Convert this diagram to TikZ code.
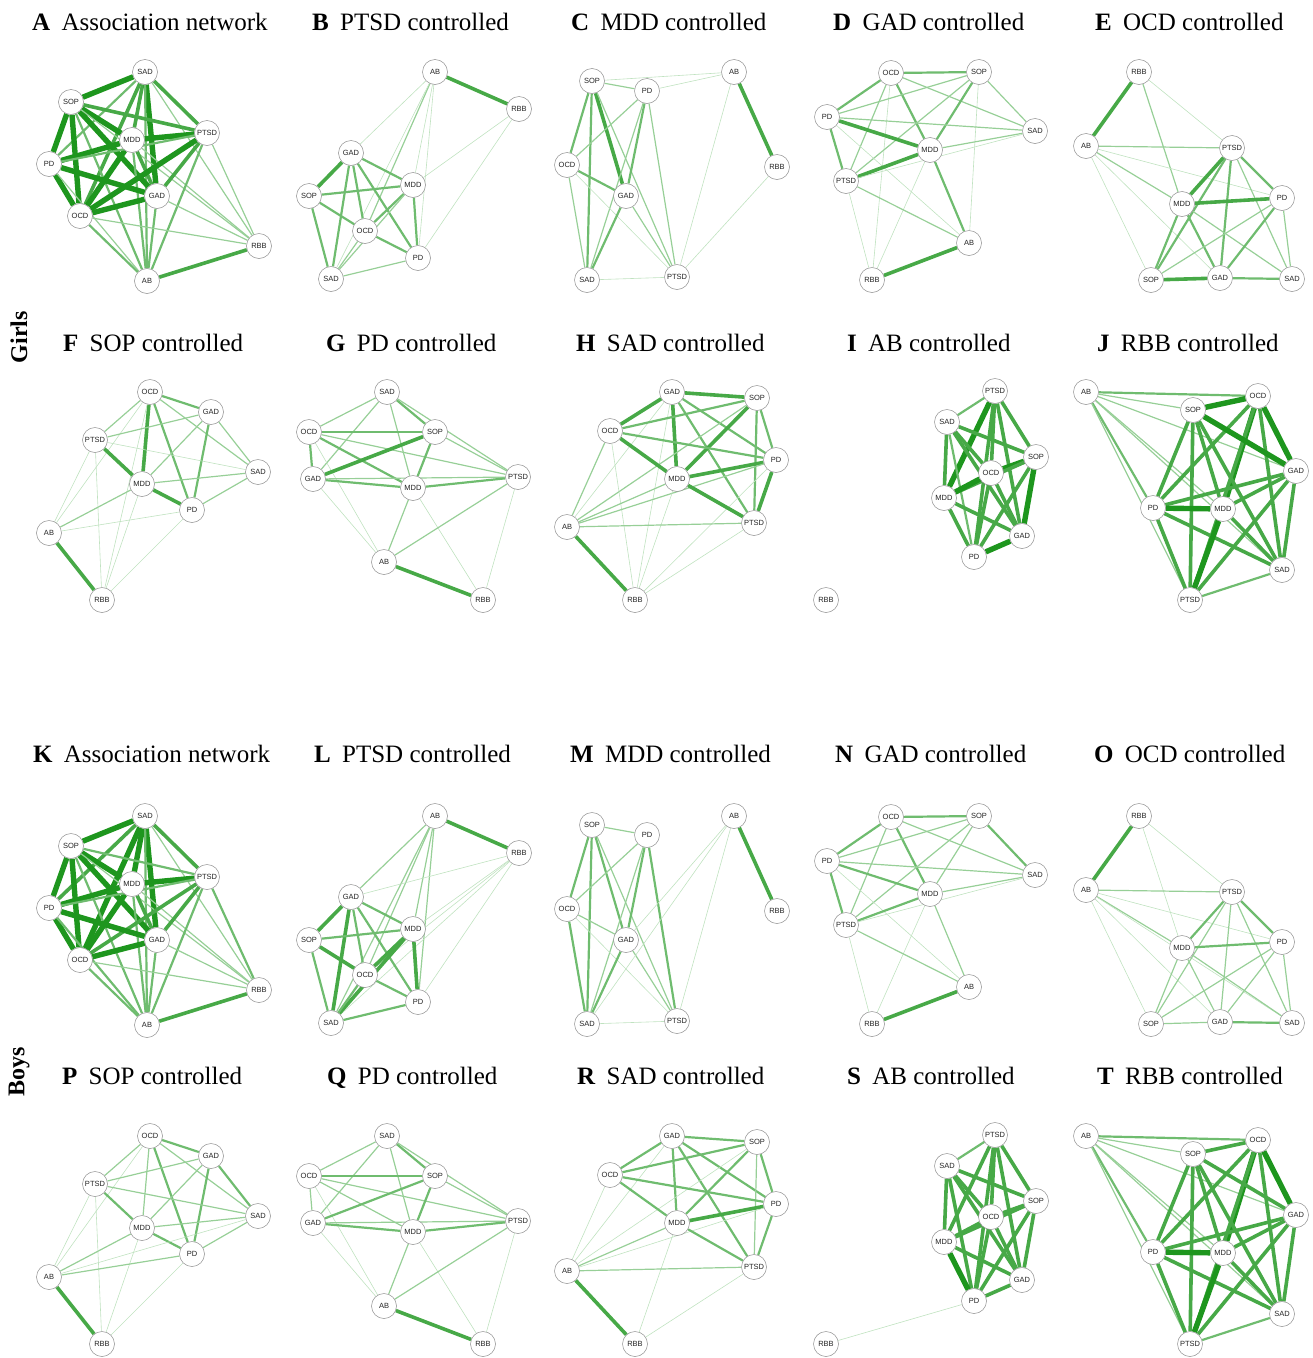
\documentclass[tikz,border=0pt]{standalone}
\usepackage{fontspec}
\setmainfont{Liberation Serif}
\newfontfamily\labelfont{Liberation Sans}
\usetikzlibrary{backgrounds}
\definecolor{edgegreen}{RGB}{30,150,30}
\definecolor{rimgray}{RGB}{140,140,140}

\tikzset{
  sym/.style={circle, draw=rimgray, line width=0.5pt, fill=white, minimum size=25pt, inner sep=0pt,
    font=\labelfont\fontsize{7.5}{8}\selectfont, text=black!85},
  paneltitle/.style={anchor=base west, inner sep=0pt, font=\fontsize{25}{28}\selectfont},
  sidelabel/.style={rotate=90, inner sep=0pt, font=\bfseries\fontsize{24}{27}\selectfont}
}

% nodes of one panel: prefix, y offset, list name/x/y
\newcommand\netnodes[3]{%
  \foreach \n/\x/\y in #3 {\node[sym] (#1\n) at (\x,\y+#2) {\n};}}
% edges of one panel: prefix, list a/b/strength (1..5)
\newcommand\netedges[2]{%
  \begin{pgfonlayer}{background}
  \foreach \a/\b/\s in {#2} {%
    \pgfmathsetmacro\lw{0.4+0.2*\s*\s}%
    \pgfmathtruncatemacro\pc{10+18*\s}%
    \draw[line width=\lw pt, draw=edgegreen!\pc!white] (#1\a) -- (#1\b);}
  \end{pgfonlayer}}

% node layouts (girls; boys use the same with offset)
\def\posA{SAD/145/72, SOP/71/102, MDD/132/140, PTSD/207/133, PD/49/164, GAD/157/196, OCD/80/216, RBB/259/246, AB/147/281}
\def\posB{AB/435/72, RBB/519/109, GAD/351/153, MDD/413/185, SOP/309/196, OCD/365/231, PD/418/258, SAD/331/279}
\def\posC{SOP/592/81, PD/647/91, AB/734/72, OCD/567/165, RBB/777/167, GAD/626/196, SAD/587/280, PTSD/677/277}
\def\posD{OCD/891/73, SOP/979/72, PD/827/117, SAD/1035/131, MDD/930/150, PTSD/846/181, AB/969/243, RBB/872/280}
\def\posE{RBB/1139/72, AB/1086/146, PTSD/1232/148, PD/1282/198, MDD/1182/204, SOP/1151/280, GAD/1220/278, SAD/1292/279}
\def\posF{OCD/150/392, GAD/211/412, PTSD/95/440, SAD/258/472, MDD/142/484, PD/192/510, AB/49/533, RBB/102/600}
\def\posG{SAD/387/392, OCD/309/432, SOP/435/432, GAD/313/479, MDD/413/488, PTSD/518/477, AB/384/562, RBB/483/600}
\def\posH{GAD/672/392, SOP/757/398, OCD/610/431, PD/776/460, MDD/677/479, PTSD/754/523, AB/567/527, RBB/635/600}
\def\posI{PTSD/995/391, SAD/947/422, SOP/1036/457, OCD/991/473, MDD/944/498, GAD/1022/536, PD/974/557, RBB/826/600}
\def\posJ{AB/1086/392, OCD/1258/396, SOP/1193/410, GAD/1296/471, PD/1153/508, MDD/1223/509, SAD/1282/570, PTSD/1190/600}

\begin{document}
\begin{tikzpicture}[x=1pt, y=-1pt]
\useasboundingbox (0,0) rectangle (1313,1358);

% side labels
\node[sidelabel] (girls) at (19,337) {Girls};
\node[sidelabel] (boys) at (19,1072) {Boys};

% titles
\foreach \t/\x/\y/\s in {A/32/30/Association network, B/312/30/PTSD controlled, C/571/30/MDD controlled,
  D/833/30/GAD controlled, E/1095/30/OCD controlled, F/63/351/SOP controlled, G/326/351/PD controlled,
  H/576/351/SAD controlled, I/847/351/AB controlled, J/1097/351/RBB controlled,
  K/33/762/Association network, L/314/762/PTSD controlled, M/570/762/MDD controlled,
  N/835/762/GAD controlled, O/1094/762/OCD controlled, P/62/1084/SOP controlled, Q/327/1084/PD controlled,
  R/577/1084/SAD controlled, S/847/1084/AB controlled, T/1097/1084/RBB controlled}
  \node[paneltitle] (title\t) at (\x,\y) {\textbf{\t}\hspace{0.45em}\s};

% ---------------- girls ----------------
\netnodes{A}{0}{\posA}
\netedges{A}{SAD/SOP/5, SAD/MDD/4, SAD/GAD/5, SAD/OCD/4, SAD/PD/3, SAD/PTSD/4, SAD/AB/3, SAD/RBB/2,
  SOP/MDD/5, SOP/GAD/5, SOP/PTSD/4, SOP/PD/5, SOP/OCD/5, SOP/AB/3, SOP/RBB/2,
  MDD/PTSD/5, MDD/PD/5, MDD/OCD/5, MDD/GAD/4, MDD/AB/3, MDD/RBB/2,
  PTSD/PD/3, PTSD/OCD/5, PTSD/GAD/4, PTSD/AB/3, PTSD/RBB/2,
  PD/GAD/5, PD/OCD/5, PD/AB/2, GAD/OCD/5, GAD/AB/3, GAD/RBB/2, OCD/AB/3, OCD/RBB/2, AB/RBB/4}

\netnodes{B}{0}{\posB}
\netedges{B}{AB/RBB/4, AB/GAD/1, AB/MDD/1, AB/OCD/2, AB/SAD/1, AB/PD/1, RBB/MDD/1, RBB/PD/1,
  GAD/SOP/4, GAD/MDD/3, GAD/OCD/3, GAD/SAD/3, GAD/PD/3, SOP/MDD/3, SOP/OCD/3, SOP/SAD/3,
  MDD/OCD/3, MDD/SAD/2, MDD/PD/3, OCD/PD/3, OCD/SAD/2, SAD/PD/2}

\netnodes{C}{0}{\posC}
\netedges{C}{AB/RBB/4, SOP/PD/2, SOP/AB/1, SOP/OCD/3, SOP/GAD/4, SOP/SAD/3, SOP/PTSD/2,
  PD/OCD/2, PD/GAD/3, PD/SAD/2, PD/PTSD/2, PD/AB/1, OCD/GAD/3, OCD/SAD/2, OCD/PTSD/1,
  GAD/SAD/3, GAD/PTSD/2, SAD/PTSD/1, AB/PTSD/1, RBB/PTSD/1}

\netnodes{D}{0}{\posD}
\netedges{D}{OCD/SOP/3, OCD/PD/3, OCD/MDD/3, OCD/PTSD/2, OCD/SAD/2, OCD/RBB/1, SOP/PD/2, SOP/SAD/2,
  SOP/MDD/3, SOP/PTSD/2, SOP/AB/1, PD/MDD/4, PD/PTSD/3, PD/SAD/2, PD/AB/1, MDD/PTSD/4,
  MDD/SAD/2, MDD/AB/3, MDD/RBB/1, PTSD/SAD/1, PTSD/AB/2, PTSD/RBB/1, AB/RBB/4}

\netnodes{E}{0}{\posE}
\netedges{E}{RBB/AB/4, RBB/PTSD/1, RBB/MDD/2, AB/PTSD/2, AB/MDD/2, AB/PD/1, AB/SOP/1, AB/GAD/1,
  PTSD/MDD/4, PTSD/PD/3, PTSD/SOP/3, PTSD/GAD/3, PTSD/SAD/2, MDD/PD/4, MDD/SOP/3, MDD/GAD/3,
  MDD/SAD/2, PD/SOP/2, PD/GAD/3, PD/SAD/2, SOP/GAD/4, GAD/SAD/3}

\netnodes{F}{0}{\posF}
\netedges{F}{OCD/GAD/3, OCD/PTSD/2, OCD/MDD/4, OCD/PD/3, OCD/SAD/2, OCD/AB/1, OCD/RBB/1,
  GAD/PTSD/2, GAD/MDD/2, GAD/PD/3, GAD/SAD/2, PTSD/MDD/4, PTSD/SAD/1, PTSD/AB/1, PTSD/RBB/1,
  MDD/PD/4, MDD/SAD/2, MDD/AB/2, MDD/RBB/1, PD/SAD/2, PD/AB/1, PD/RBB/1, AB/RBB/4}

\netnodes{G}{0}{\posG}
\netedges{G}{SAD/OCD/2, SAD/GAD/2, SAD/SOP/3, SAD/MDD/2, SAD/PTSD/2, OCD/SOP/3, OCD/GAD/3, OCD/MDD/3,
  OCD/PTSD/2, OCD/AB/1, SOP/GAD/4, SOP/MDD/3, SOP/PTSD/2, GAD/MDD/3, GAD/PTSD/2, GAD/AB/1,
  MDD/PTSD/3, MDD/AB/2, MDD/RBB/1, PTSD/AB/2, PTSD/RBB/1, AB/RBB/4}

\netnodes{H}{0}{\posH}
\netedges{H}{GAD/SOP/4, GAD/OCD/4, GAD/MDD/4, GAD/PD/3, GAD/PTSD/3, GAD/AB/1, GAD/RBB/1,
  SOP/OCD/3, SOP/MDD/4, SOP/PD/3, SOP/PTSD/3, SOP/AB/2, OCD/PD/3, OCD/MDD/4, OCD/AB/2, OCD/RBB/1,
  PD/MDD/4, PD/PTSD/4, PD/AB/2, PD/RBB/1, MDD/PTSD/4, MDD/AB/2, MDD/RBB/1, PTSD/AB/2, PTSD/RBB/1, AB/RBB/4}

\netnodes{I}{0}{\posI}
\netedges{I}{PTSD/SAD/3, PTSD/SOP/4, PTSD/OCD/4, PTSD/MDD/5, PTSD/GAD/4, PTSD/PD/4,
  SAD/SOP/4, SAD/OCD/4, SAD/MDD/4, SAD/GAD/4, SAD/PD/3, SOP/OCD/5, SOP/MDD/4, SOP/GAD/5, SOP/PD/4,
  OCD/MDD/5, OCD/GAD/4, OCD/PD/4, MDD/GAD/4, MDD/PD/4, GAD/PD/5}

\netnodes{J}{0}{\posJ}
\netedges{J}{AB/OCD/3, AB/SOP/2, AB/GAD/2, AB/MDD/2, AB/SAD/2, AB/PD/3, AB/PTSD/2,
  OCD/SOP/5, OCD/GAD/5, OCD/PD/4, OCD/MDD/5, OCD/SAD/4, OCD/PTSD/4, SOP/GAD/5, SOP/PD/4, SOP/MDD/4,
  SOP/SAD/4, SOP/PTSD/4, GAD/PD/4, GAD/MDD/4, GAD/SAD/4, GAD/PTSD/4, PD/MDD/5, PD/SAD/4, PD/PTSD/4,
  MDD/SAD/4, MDD/PTSD/5, SAD/PTSD/3}

% ---------------- boys ----------------
\netnodes{K}{744}{\posA}
\netedges{K}{SAD/SOP/5, SAD/MDD/5, SAD/GAD/5, SAD/OCD/5, SAD/PD/4, SAD/PTSD/4, SAD/AB/3, SAD/RBB/2,
  SOP/MDD/5, SOP/GAD/5, SOP/PTSD/3, SOP/PD/5, SOP/OCD/5, SOP/AB/3, SOP/RBB/2,
  MDD/PTSD/5, MDD/PD/5, MDD/OCD/5, MDD/GAD/4, MDD/AB/3, MDD/RBB/2,
  PTSD/PD/3, PTSD/OCD/4, PTSD/GAD/4, PTSD/AB/3, PTSD/RBB/3,
  PD/GAD/5, PD/OCD/5, PD/AB/3, GAD/OCD/5, GAD/AB/3, GAD/RBB/2, OCD/AB/3, OCD/RBB/2, AB/RBB/4}

\netnodes{L}{744}{\posB}
\netedges{L}{AB/RBB/4, AB/GAD/2, AB/MDD/2, AB/OCD/2, AB/SAD/2, AB/PD/2, RBB/GAD/1, RBB/MDD/1,
  RBB/OCD/1, RBB/SAD/1, RBB/PD/1, GAD/SOP/4, GAD/MDD/3, GAD/OCD/3, GAD/SAD/4, GAD/PD/3,
  SOP/MDD/3, SOP/OCD/4, SOP/SAD/3, MDD/OCD/4, MDD/SAD/4, MDD/PD/4, OCD/PD/3, OCD/SAD/3, SAD/PD/3}

\netnodes{M}{744}{\posC}
\netedges{M}{AB/RBB/4, SOP/PD/2, SOP/OCD/3, SOP/GAD/3, SOP/SAD/3, SOP/PTSD/2,
  PD/OCD/2, PD/GAD/3, PD/SAD/2, PD/PTSD/3, OCD/GAD/2, OCD/SAD/3, OCD/PTSD/1,
  GAD/SAD/3, GAD/PTSD/2, SAD/PTSD/1, AB/PTSD/1, AB/GAD/1, AB/SAD/1}

\netnodes{N}{744}{\posD}
\netedges{N}{OCD/SOP/3, OCD/PD/3, OCD/MDD/3, OCD/PTSD/2, OCD/SAD/2, SOP/PD/2, SOP/SAD/3,
  SOP/MDD/2, SOP/PTSD/2, PD/MDD/3, PD/PTSD/3, PD/SAD/2, PD/AB/1, MDD/PTSD/3, MDD/SAD/2,
  MDD/AB/2, MDD/RBB/1, PTSD/SAD/1, PTSD/AB/2, PTSD/RBB/1, AB/RBB/4}

\netnodes{O}{744}{\posE}
\netedges{O}{RBB/AB/4, RBB/PTSD/1, RBB/MDD/1, AB/PTSD/2, AB/MDD/2, AB/PD/1, AB/SOP/1, AB/GAD/1, AB/SAD/1,
  PTSD/MDD/3, PTSD/PD/3, PTSD/SOP/2, PTSD/GAD/2, PTSD/SAD/2, MDD/PD/3, MDD/SOP/2, MDD/GAD/2,
  MDD/SAD/2, PD/SOP/2, PD/GAD/2, PD/SAD/2, SOP/GAD/2, GAD/SAD/3}

\netnodes{P}{744}{\posF}
\netedges{P}{OCD/GAD/3, OCD/PTSD/2, OCD/MDD/2, OCD/PD/3, OCD/SAD/2, OCD/AB/1,
  GAD/PTSD/2, GAD/MDD/2, GAD/PD/3, GAD/SAD/3, PTSD/MDD/3, PTSD/SAD/2, PTSD/AB/1, PTSD/RBB/1,
  MDD/PD/3, MDD/SAD/2, MDD/AB/2, MDD/RBB/1, PD/SAD/2, PD/AB/2, PD/RBB/1, AB/SAD/1, AB/RBB/4}

\netnodes{Q}{744}{\posG}
\netedges{Q}{SAD/OCD/2, SAD/GAD/2, SAD/SOP/3, SAD/MDD/2, SAD/PTSD/2, OCD/SOP/3, OCD/GAD/2, OCD/MDD/2,
  OCD/PTSD/2, OCD/AB/1, SOP/GAD/3, SOP/MDD/3, SOP/PTSD/2, GAD/MDD/3, GAD/PTSD/2, GAD/AB/1,
  MDD/PTSD/3, MDD/AB/2, MDD/RBB/1, PTSD/AB/2, PTSD/RBB/1, AB/RBB/4}

\netnodes{R}{744}{\posH}
\netedges{R}{GAD/SOP/3, GAD/OCD/3, GAD/MDD/3, GAD/PD/3, GAD/PTSD/3, GAD/AB/1,
  SOP/OCD/3, SOP/MDD/3, SOP/PD/3, SOP/PTSD/2, SOP/AB/1, OCD/PD/3, OCD/MDD/3, OCD/AB/1,
  PD/MDD/4, PD/PTSD/3, PD/AB/1, MDD/PTSD/3, MDD/AB/2, MDD/RBB/1, PTSD/AB/2, PTSD/RBB/1, AB/RBB/4}

\netnodes{S}{744}{\posI}
\netedges{S}{PTSD/SAD/3, PTSD/SOP/4, PTSD/OCD/4, PTSD/MDD/4, PTSD/GAD/4, PTSD/PD/4,
  SAD/SOP/4, SAD/OCD/4, SAD/MDD/4, SAD/GAD/4, SAD/PD/4, SOP/OCD/4, SOP/MDD/4, SOP/GAD/4, SOP/PD/4,
  OCD/MDD/4, OCD/GAD/4, OCD/PD/4, MDD/GAD/4, MDD/PD/5, GAD/PD/4, RBB/PD/1}

\netnodes{T}{744}{\posJ}
\netedges{T}{AB/OCD/3, AB/SOP/2, AB/GAD/2, AB/MDD/2, AB/SAD/2, AB/PD/3, AB/PTSD/2,
  OCD/SOP/4, OCD/GAD/5, OCD/PD/4, OCD/MDD/5, OCD/SAD/4, OCD/PTSD/4, SOP/GAD/4, SOP/PD/4, SOP/MDD/4,
  SOP/SAD/4, SOP/PTSD/4, GAD/PD/4, GAD/MDD/4, GAD/SAD/4, GAD/PTSD/4, PD/MDD/5, PD/SAD/4, PD/PTSD/4,
  MDD/SAD/4, MDD/PTSD/5, SAD/PTSD/3}
\end{tikzpicture}
\end{document}
